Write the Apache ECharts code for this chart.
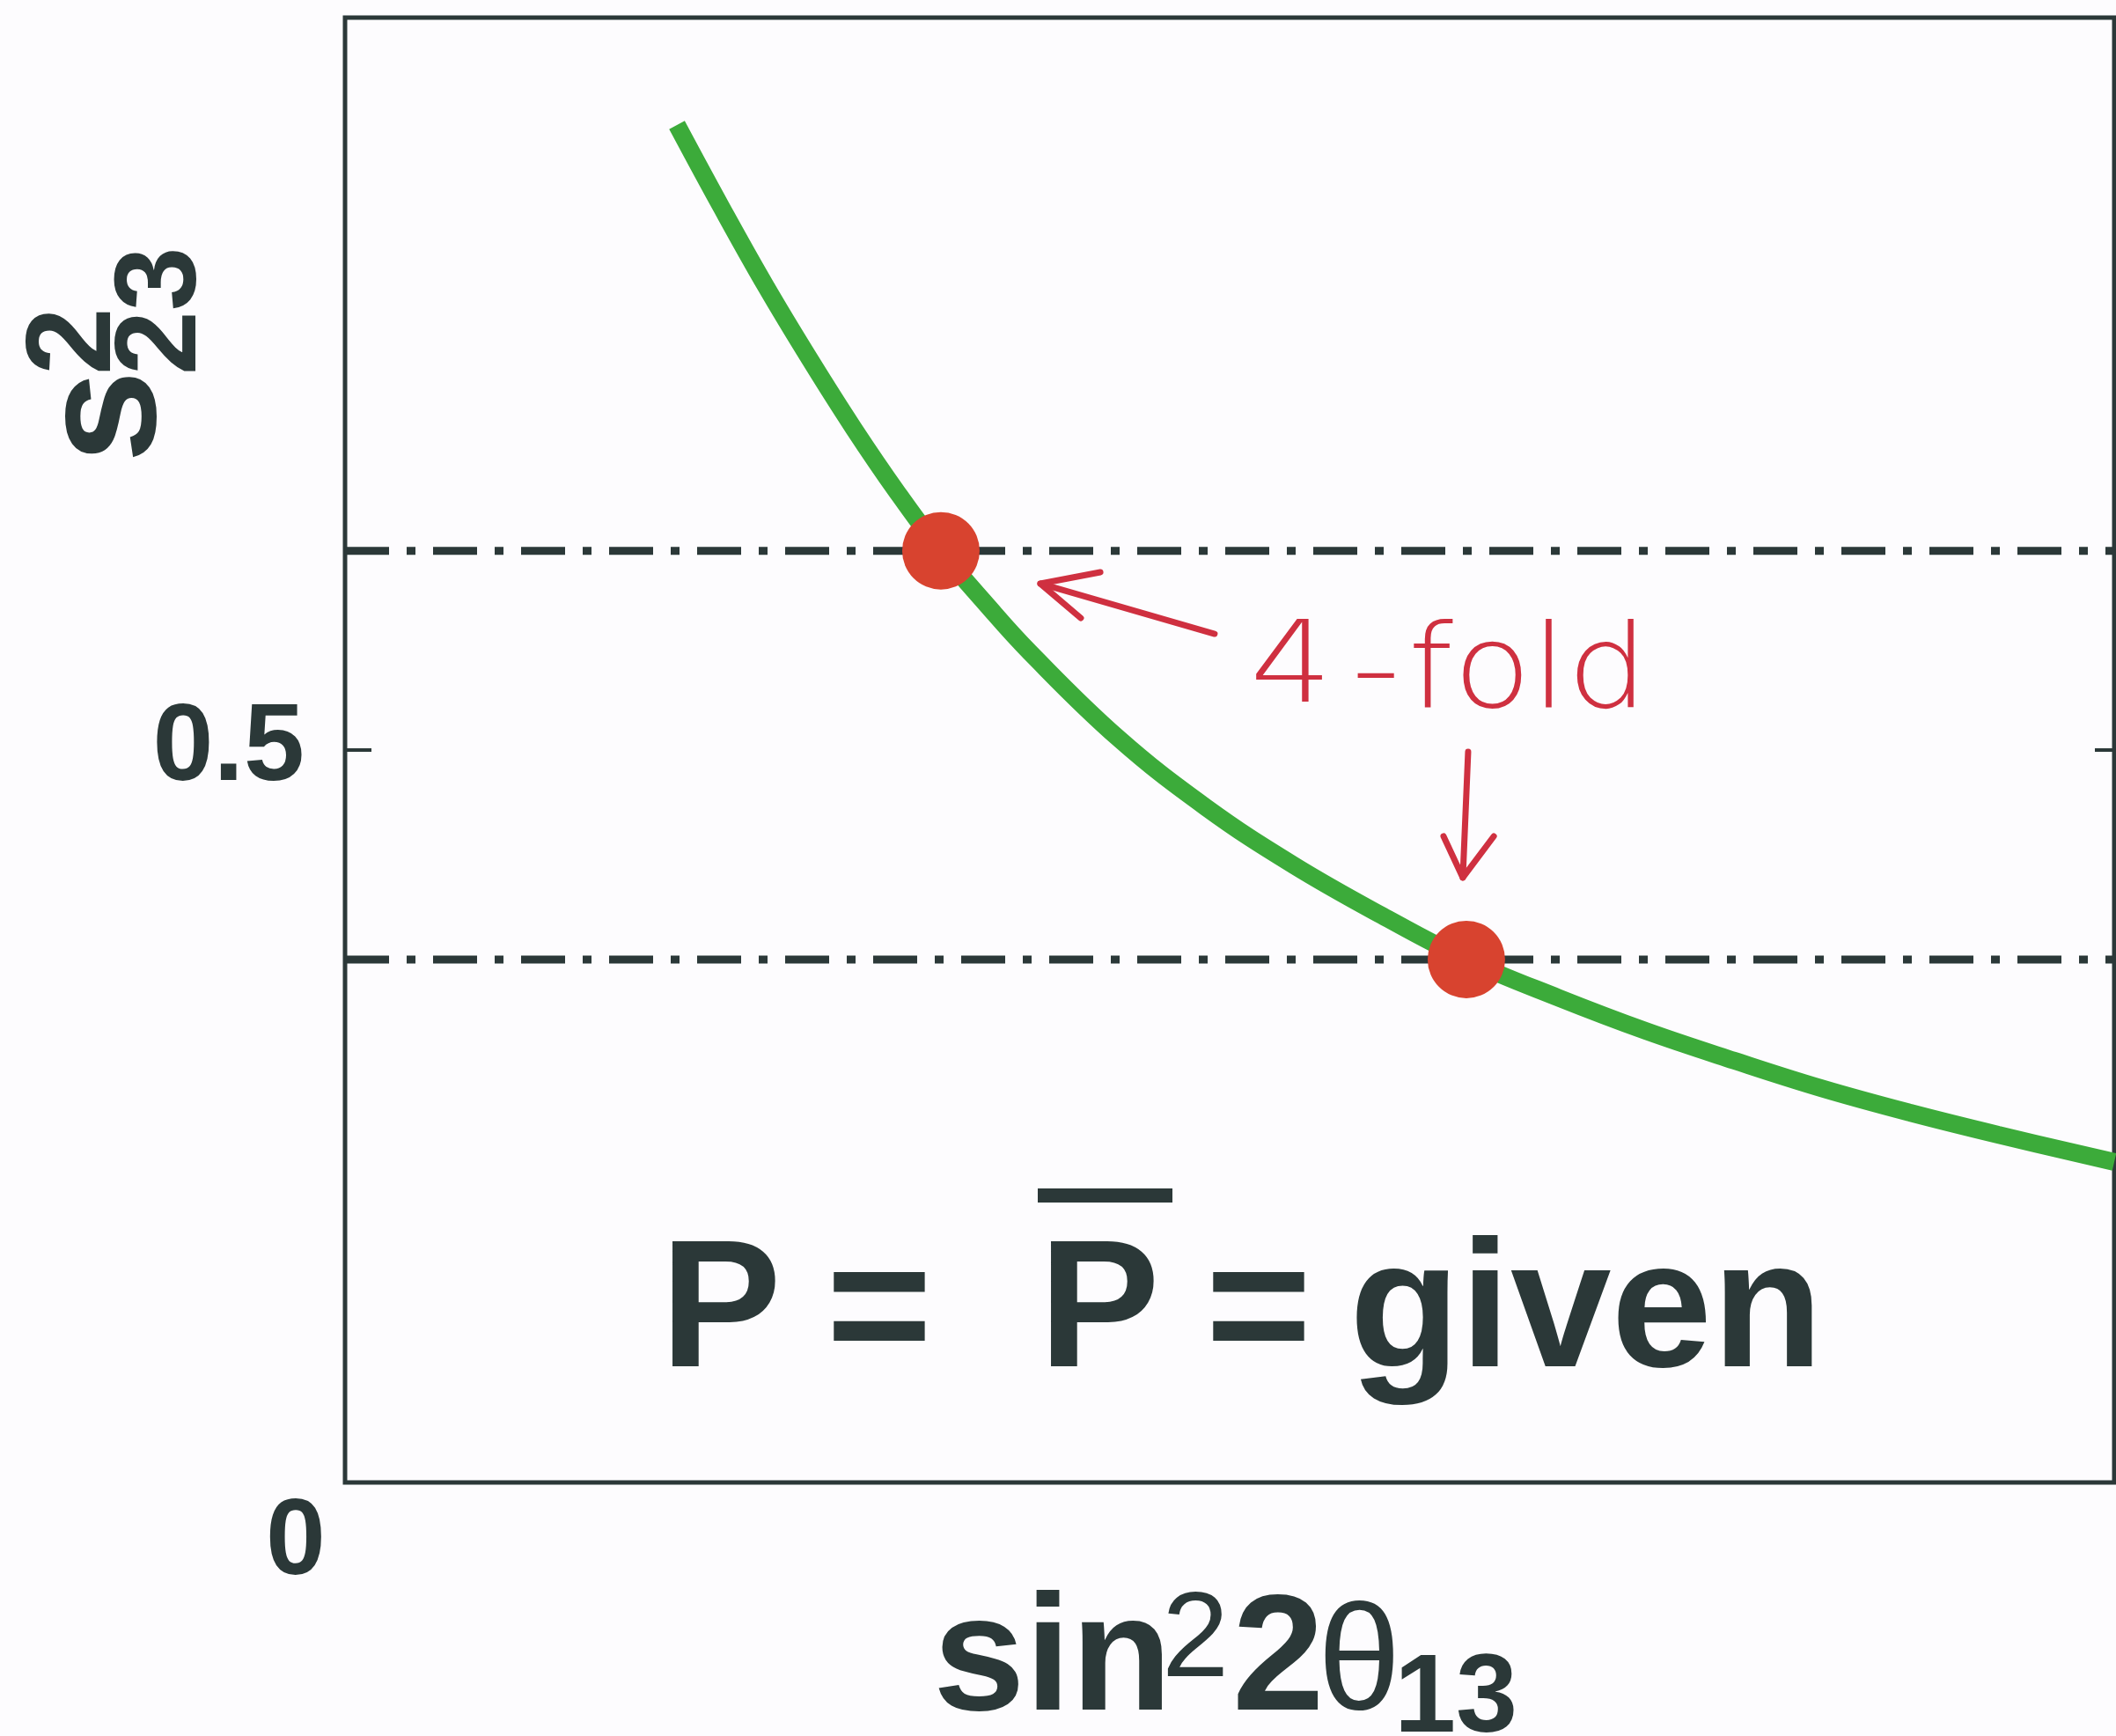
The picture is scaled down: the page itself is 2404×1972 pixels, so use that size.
<!DOCTYPE html>
<html>
<head>
<meta charset="utf-8">
<script src="https://cdn.jsdelivr.net/npm/echarts@6/dist/echarts.min.js"></script>
<style>
html,body{margin:0;padding:0;background:#fdfcfe;}
#chart{width:2404px;height:1972px;}
</style>
</head>
<body>
<div id="chart"></div>
<script>
// ---- data ----
const curveX = [0.1876,0.2129,0.2378,0.2627,0.2876,0.3124,0.3368,0.3622,0.3871,0.4368,0.4866,0.5363,0.5861,0.6338,0.6856,0.7353,0.7851,0.8348,0.8846,0.9343,1.0];
const curveY = [0.9267,0.8702,0.8167,0.7668,0.7194,0.6755,0.6358,0.5998,0.5667,0.5084,0.4609,0.4213,0.3870,0.3570,0.3310,0.3082,0.2880,0.2690,0.2524,0.2374,0.2188];
const levelValues = [0.636, 0.357];          // dash-dot lines
const solutionX = [0.3368, 0.6338];         // red dots (on the levels)
const yTickValues = [0.5];
const yTickLabels = ['0.5'];
const originLabel = '0';
const annotationText = ['4', '-', 'fold'];

// annotation anchors in data units
const arrowLeft = { line: [[0.4915,0.5793],[0.3930,0.6136]], head: [[0.4269,0.6214],[0.3930,0.6136],[0.4159,0.5901]] };
const arrowDown = { line: [[0.6348,0.4988],[0.6318,0.4129]], head: [[0.6209,0.4411],[0.6318,0.4129],[0.6493,0.4411]] };
const annoTextPos = [[0.5348,0.5528],[0.5826,0.5499],[0.6687,0.5499]];

const DARK = '#2b3838';
const RED_HAND = '#cf3040';
const FONT = '"Liberation Sans", Arial, sans-serif';
const chart = echarts.init(document.getElementById('chart'), null, {renderer:'canvas'});

const dots = solutionX.map((x,i)=>[x, levelValues[i]]);
const curve = curveX.map((x,i)=>[x, curveY[i]]);

const levelSeries = levelValues.map(v => ({
  type:'line', data:[[0,v],[1,v]], symbol:'none', z:3, silent:true,
  lineStyle:{color:DARK, width:9, type:[50,20,10,20], cap:'butt'}
}));

function txt(x, y, text, font, align){
  return {type:'text',x,y,style:{text,font,fill:DARK,align:align||'left',verticalAlign:'middle',textAlign:align||'left',textVerticalAlign:'middle'}};
}

const option = {
  animation:false,
  backgroundColor:'#fdfcfe',
  grid:{left:392,right:2,top:20,bottom:288,show:true,borderColor:DARK,borderWidth:5,backgroundColor:'transparent',containLabel:false,outerBoundsMode:'none'},
  xAxis:{type:'value',min:0,max:1,axisLine:{show:false},axisTick:{show:false},axisLabel:{show:false},splitLine:{show:false}},
  yAxis:[
    {type:'value',min:0,max:1,interval:0.5,position:'left',
     axisLine:{show:false},
     axisTick:{show:true,inside:true,length:30,lineStyle:{color:DARK,width:4}},
     axisLabel:{margin:46,padding:[0,0,30,0],color:DARK,fontSize:124,fontWeight:'bold',fontFamily:FONT,
       formatter:v=>{const i=yTickValues.indexOf(v);return i>=0?yTickLabels[i]:'';}},
     splitLine:{show:false}},
    {type:'value',min:0,max:1,interval:0.5,position:'right',
     axisLine:{show:false},
     axisTick:{show:true,inside:true,length:22,lineStyle:{color:DARK,width:4}},
     axisLabel:{show:false},splitLine:{show:false}}
  ],
  series:[
    {type:'line',data:curve,smooth:0.4,symbol:'none',z:2,silent:true,
     lineStyle:{color:'#3cab3a',width:20,cap:'butt'}},
    ...levelSeries,
    {type:'scatter',data:dots,symbolSize:88,z:4,itemStyle:{color:'#d8432f',opacity:1}},
    {type:'custom',coordinateSystem:'cartesian2d',data:[[0,0]],z:5,silent:true,
     renderItem:(params,api)=>{
       const pts = arr => arr.map(p=>api.coord(p));
       const stroke = {stroke:RED_HAND,lineWidth:7,fill:null,lineCap:'round',lineJoin:'round'};
       const children = [
         {type:'polyline',shape:{points:pts(arrowLeft.line)},style:stroke},
         {type:'polyline',shape:{points:pts(arrowLeft.head)},style:stroke},
         {type:'polyline',shape:{points:pts(arrowDown.line)},style:stroke},
         {type:'polyline',shape:{points:pts(arrowDown.head)},style:stroke}
       ];
       const sizes = [128, 130, 132];
       const sx = [1.15, 1.2, 1.1];
       annotationText.forEach((t,i)=>{
         const c = api.coord(annoTextPos[i]);
         children.push({type:'text',x:c[0],y:c[1],scaleX:sx[i],
           style:{text:t,fill:RED_HAND,font:'200 '+sizes[i]+'px "DejaVu Sans", sans-serif',align:'center',verticalAlign:'middle',textAlign:'center',textVerticalAlign:'middle'}});
       });
       return {type:'group',children};
     }}
  ],
  graphic:{elements:[
    // main statement P = P̄ = given
    txt(819,1495,'P','bold 206px '+FONT,'center'),
    txt(999,1495,'=','bold 206px '+FONT,'center'),
    txt(1249,1495,'P','bold 206px '+FONT,'center'),
    {type:'rect',shape:{x:1179,y:1350,width:153,height:16},style:{fill:DARK}},
    txt(1430,1495,'=','bold 206px '+FONT,'center'),
    txt(1802,1495,'given','bold 206px '+FONT,'center'),
    // x axis title sin^2 2θ_13
    txt(1060,1890,'sin','bold 188px '+FONT),
    txt(1320,1866,'2','137px '+FONT),
    txt(1400,1890,'2','bold 188px '+FONT),
    txt(1497,1895,'θ','170px '+FONT),
    txt(1584,1932,'13','bold 126px '+FONT),
    // y axis title s^2_23 (rotated)
    {type:'group',x:175,y:520,rotation:Math.PI/2,children:[
      txt(-6,-51,'s','bold 190px '+FONT),
      txt(94,-88,'2','bold 138px '+FONT),
      txt(94,11,'23','bold 131px '+FONT)
    ]},
    // origin label
    txt(336,1754,originLabel,'bold 122px '+FONT,'center')
  ]}
};
chart.setOption(option);
</script>
</body>
</html>
